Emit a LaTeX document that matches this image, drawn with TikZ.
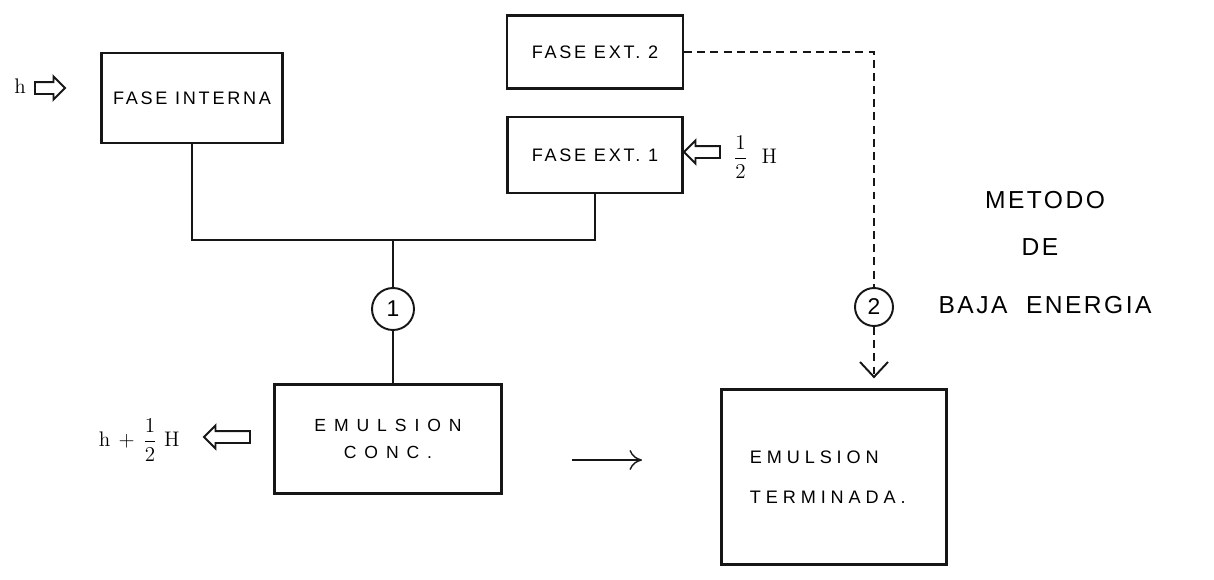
\documentclass[tikz,border=0pt]{standalone}
\usepackage{fontspec}
\usepackage{amsmath}
\usetikzlibrary{arrows.meta,calc,positioning,shapes.arrows}
\setsansfont{Liberation Sans}
\newfontfamily\stencil[LetterSpace=15]{Liberation Sans}
\newfontfamily\stencilmid[LetterSpace=27]{Liberation Sans}
\newfontfamily\stencilwide[LetterSpace=45]{Liberation Sans}
\newfontfamily\titlefont[LetterSpace=10]{Liberation Sans}
\definecolor{InkBlack}{HTML}{161616}
\tikzset{
  stage/.style={
    draw=InkBlack,
    line width=1.3pt,
    align=center,
    font=\stencil\fontsize{10.3}{12}\selectfont,
    inner sep=1mm
  },
  link/.style={draw=InkBlack,line width=1.1pt},
  dashlink/.style={link,dash pattern=on 4.5pt off 3pt},
  stepmark/.style={
    circle,
    draw=InkBlack,
    line width=1.1pt,
    inner sep=0pt,
    font=\sffamily\fontsize{13}{14}\selectfont
  },
  hollowarrow/.style={
    shape=single arrow,
    draw=InkBlack,
    line width=1.1pt,
    inner sep=1mm,
    single arrow head extend=1.1mm
  },
  heatlabel/.style={font=\fontsize{12}{14}\selectfont,inner sep=0pt},
  methodtitle/.style={font=\titlefont\fontsize{14}{16}\selectfont,inner sep=0pt}
}

\begin{document}
\begin{tikzpicture}[x=.02cm,y=-.02cm]
  \useasboundingbox (0,0) rectangle (1214,579);
  \node[stage,minimum width=3.62cm,minimum height=1.8cm] (intern) at (192,98) {FASE INTERNA};
  \node[stage,minimum width=3.52cm,minimum height=1.46cm] (ext2) at (595,52) {FASE EXT. 2};
  \node[stage,minimum width=3.5cm,minimum height=1.52cm] (ext1) at (595,155) {FASE EXT. 1};
  \node[stage,minimum width=4.54cm,minimum height=2.18cm,font=\stencilwide\fontsize{10}{12}\selectfont] (conc) at (388,439) {EMULSION\\[.12cm]CONC.};
  \node[stage,minimum width=4.5cm,minimum height=3.5cm,align=left,font=\stencilmid\fontsize{10.3}{12}\selectfont] (final) at (834,477) {EMULSION\\[.38cm]TERMINADA.\hspace*{.25cm}};
  \node[stepmark,minimum size=.84cm] (one) at (393,309) {1};
  \node[stepmark,minimum size=.76cm] (two) at (874,307) {2};
  \coordinate (junc) at (393,240);
  \node[heatlabel] (hin) at (20,86) {h};
  \node[hollowarrow,minimum height=.6cm] (inarrow) at (47,88) {};
  \node[hollowarrow,minimum height=.72cm,shape border rotate=180] (extarrow) at (705,152) {};
  \node[heatlabel,anchor=west] (halfH) at (733,157) {$\dfrac{1}{2}$\ \ H};
  \node[hollowarrow,minimum height=.92cm,shape border rotate=180] (outarrow) at (230,437) {};
  \node[heatlabel,anchor=east] (outlabel) at (180,440) {h\,${}+{}$\,$\dfrac{1}{2}$\ H};
  \node[methodtitle] (tmet) at (1045,200) {METODO};
  \node[methodtitle] (tde) at (1040,247) {DE};
  \node[methodtitle] (tbaja) at (1045,305) {BAJA\ \ ENERGIA};
  \coordinate (passa) at (572,460);
  \coordinate (passb) at (642,460);
  \draw[link] (intern.south) |- (junc) -| (ext1.south);
  \draw[link] (junc) -- (one);
  \draw[link] (one) -- (one |- conc.north);
  \draw[dashlink] (ext2.east) -| (two);
  \draw[dashlink,-{Straight Barb[length=.3cm,width=.56cm]},shorten >=.2cm] (two) -- (two |- final.north);
  \draw[link,-{Computer Modern Rightarrow[length=2.5mm,width=4mm]},line width=.8pt] (passa) -- (passb);
\end{tikzpicture}
\end{document}
